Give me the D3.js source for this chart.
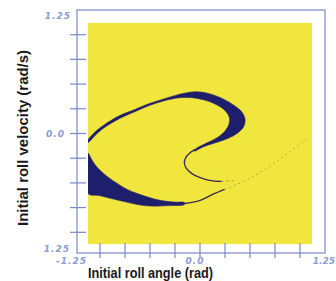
<!DOCTYPE html>
<html lang="en">
<head>
  <meta charset="UTF-8">
  <title>Roll basin</title>
  <script src="https://cdnjs.cloudflare.com/ajax/libs/d3/7.8.5/d3.min.js"></script>
  <style>
    body {
      margin: 0;
      background: white;
    }
    svg {
      display: block;
      background: white;
    }
  </style>
</head>
<body>
  <script>
    // ticks every 0.25 rad between the ends
    var tickValues = [-1.0, -0.75, -0.5, -0.25, 0.0, 0.25, 0.5, 0.75, 1.0];
    var gridExtent = [-1.12, 1.12];

    // upper crescent: outer edge then inner edge (angle, velocity)
    var upperAngle = [-1.12, -1.039, -0.959, -0.808, -0.658, -0.527, -0.387, -0.256, -0.156, -0.035, 0.095, 0.216, 0.346, 0.417, 0.450, 0.440, 0.377, 0.276, 0.146, 0.025, -0.055,
                      -0.045, 0.045, 0.166, 0.250, 0.290, 0.292, 0.246, 0.156, 0.045, -0.075, -0.206, -0.356, -0.507, -0.658, -0.808, -0.959, -1.039, -1.12];
    var upperVel = [-0.066, 0.026, 0.087, 0.179, 0.240, 0.296, 0.342, 0.383, 0.408, 0.423, 0.403, 0.357, 0.281, 0.219, 0.148, 0.077, 0.005, -0.051, -0.097, -0.138, -0.179,
                    -0.158, -0.107, -0.046, 0.026, 0.097, 0.168, 0.236, 0.296, 0.338, 0.362, 0.362, 0.332, 0.284, 0.218, 0.150, 0.058, -0.010, -0.092];

    // lower crescent: upper edge then lower edge
    var lowerAngle = [-1.12, -1.079, -1.029, -0.929, -0.828, -0.728, -0.628, -0.507, -0.387, -0.256, -0.156,
                      -0.156, -0.306, -0.487, -0.628, -0.758, -0.909, -1.009, -1.12];
    var lowerVel = [-0.199, -0.270, -0.342, -0.434, -0.505, -0.566, -0.607, -0.648, -0.679, -0.694, -0.699,
                    -0.719, -0.730, -0.735, -0.719, -0.689, -0.653, -0.628, -0.607];

    // thin hook inside the upper crescent
    var hookAngle = [-0.045, -0.105, -0.146, -0.156, -0.136, -0.085, -0.005, 0.095, 0.216];
    var hookVel = [-0.158, -0.199, -0.250, -0.301, -0.352, -0.403, -0.444, -0.474, -0.485];
    var hookFaintAngle = [0.216, 0.346];
    var hookFaintVel = [-0.485, -0.474];

    // thin tail of the lower crescent
    var tailAngle = [-0.156, -0.005, 0.126, 0.246];
    var tailVel = [-0.709, -0.679, -0.617, -0.566];
    var tailFaintAngle = [0.246, 0.366, 0.497, 0.648, 0.798, 0.949, 1.069];
    var tailFaintVel = [-0.566, -0.515, -0.454, -0.362, -0.260, -0.148, -0.056];

    var w = 336;
    var h = 281;
    var blue = "#7a88c8";
    var labelBlue = "#8d9ad4";

    var svg = d3.select("body").append("svg")
      .attr("width", w)
      .attr("height", h);

    var xScale = d3.scaleLinear().domain([-1.25, 1.25]).range([75, 325]);
    var yScale = d3.scaleLinear().domain([-1.25, 1.25]).range([257, 10]);

    function pts(a, v) {
      return a.map(function(d, i) { return [d, v[i]]; });
    }

    var openLine = d3.line()
      .x(function(d) { return xScale(d[0]); })
      .y(function(d) { return yScale(d[1]); })
      .curve(d3.curveCatmullRom);

    var shapeLine = d3.line()
      .x(function(d) { return xScale(d[0]); })
      .y(function(d) { return yScale(d[1]); })
      .curve(d3.curveCatmullRomClosed);

    svg.append("clipPath").attr("id", "grid")
      .append("rect")
      .attr("x", xScale(gridExtent[0]))
      .attr("y", yScale(gridExtent[1]))
      .attr("width", xScale(gridExtent[1]) - xScale(gridExtent[0]))
      .attr("height", yScale(gridExtent[0]) - yScale(gridExtent[1]));

    // yellow basin
    svg.append("rect")
      .attr("x", xScale(gridExtent[0]))
      .attr("y", yScale(gridExtent[1]))
      .attr("width", xScale(gridExtent[1]) - xScale(gridExtent[0]))
      .attr("height", yScale(gridExtent[0]) - yScale(gridExtent[1]))
      .attr("fill", "#f1e63e");

    var basin = svg.append("g").attr("clip-path", "url(#grid)");

    basin.append("path")
      .attr("d", shapeLine(pts(upperAngle, upperVel)))
      .attr("fill", "#1e1f6c")
      .attr("stroke", "#2a2468")
      .attr("stroke-width", 0.6);

    basin.append("path")
      .attr("d", shapeLine(pts(lowerAngle, lowerVel)))
      .attr("fill", "#1e1f6c")
      .attr("stroke", "#2a2468")
      .attr("stroke-width", 0.6);

    basin.append("path")
      .attr("d", openLine(pts(hookAngle, hookVel)))
      .attr("fill", "none")
      .attr("stroke", "#3a2c5a")
      .attr("stroke-width", 1.4);

    basin.append("path")
      .attr("d", openLine(pts(hookFaintAngle, hookFaintVel)))
      .attr("fill", "none")
      .attr("stroke", "#6a5a40")
      .attr("stroke-width", 1)
      .attr("stroke-dasharray", "2,3")
      .attr("opacity", 0.6);

    basin.append("path")
      .attr("d", openLine(pts(tailAngle, tailVel)))
      .attr("fill", "none")
      .attr("stroke", "#3a2c4a")
      .attr("stroke-width", 1.4);

    basin.append("path")
      .attr("d", openLine(pts(tailFaintAngle, tailFaintVel)))
      .attr("fill", "none")
      .attr("stroke", "#8a7a40")
      .attr("stroke-width", 1)
      .attr("stroke-dasharray", "2,3")
      .attr("opacity", 0.55);

    // frame
    svg.append("rect")
      .attr("x", 77)
      .attr("y", 10)
      .attr("width", 248)
      .attr("height", 243)
      .attr("fill", "none")
      .attr("stroke", blue)
      .attr("stroke-width", 1.2);

    // ticks
    svg.selectAll(".ytick")
      .data(tickValues)
      .enter()
      .append("line")
      .attr("x1", 70)
      .attr("x2", 86)
      .attr("y1", function(d) { return yScale(d); })
      .attr("y2", function(d) { return yScale(d); })
      .attr("stroke", blue)
      .attr("stroke-width", 1.2);

    svg.selectAll(".xtick")
      .data(tickValues)
      .enter()
      .append("line")
      .attr("x1", function(d) { return xScale(d); })
      .attr("x2", function(d) { return xScale(d); })
      .attr("y1", 243)
      .attr("y2", 258)
      .attr("stroke", blue)
      .attr("stroke-width", 1.2);

    // tick labels
    var labStyle = function(sel) {
      sel.attr("fill", labelBlue)
        .attr("font-family", "DejaVu Sans, sans-serif")
        .attr("font-style", "italic")
        .attr("font-weight", "bold")
        .attr("font-size", 9)
        .attr("letter-spacing", 1);
    };

    svg.append("text").text("1.25").attr("x", 71).attr("y", 19).attr("text-anchor", "end").call(labStyle);
    svg.append("text").text("0.0").attr("x", 65).attr("y", yScale(0) + 3).attr("text-anchor", "end").call(labStyle);
    svg.append("text").text("1.25").attr("x", 70).attr("y", 252).attr("text-anchor", "end").call(labStyle);
    svg.append("text").text("-1.25").attr("x", 87).attr("y", 264).attr("text-anchor", "end").call(labStyle);
    svg.append("text").text("0.0").attr("x", xScale(-0.05)).attr("y", 264).attr("text-anchor", "middle").call(labStyle);
    svg.append("text").text("1.25").attr("x", 335).attr("y", 264).attr("text-anchor", "end")
      .call(labStyle).attr("letter-spacing", 0);

    // axis titles
    svg.append("text")
      .text("Initial roll angle (rad)")
      .attr("x", 88)
      .attr("y", 278)
      .attr("textLength", 125)
      .attr("lengthAdjust", "spacingAndGlyphs")
      .attr("font-family", "Liberation Sans Narrow, Liberation Sans, sans-serif")
      .attr("font-weight", "bold")
      .attr("font-size", 14)
      .attr("fill", "#1a1a1a");

    svg.append("text")
      .text("Initial roll velocity  (rad/s)")
      .attr("transform", "translate(28,226) rotate(-90)")
      .attr("textLength", 176)
      .attr("lengthAdjust", "spacingAndGlyphs")
      .attr("font-family", "Liberation Sans Narrow, Liberation Sans, sans-serif")
      .attr("font-weight", "bold")
      .attr("font-size", 14)
      .attr("fill", "#1a1a1a");
  </script>
</body>
</html>
